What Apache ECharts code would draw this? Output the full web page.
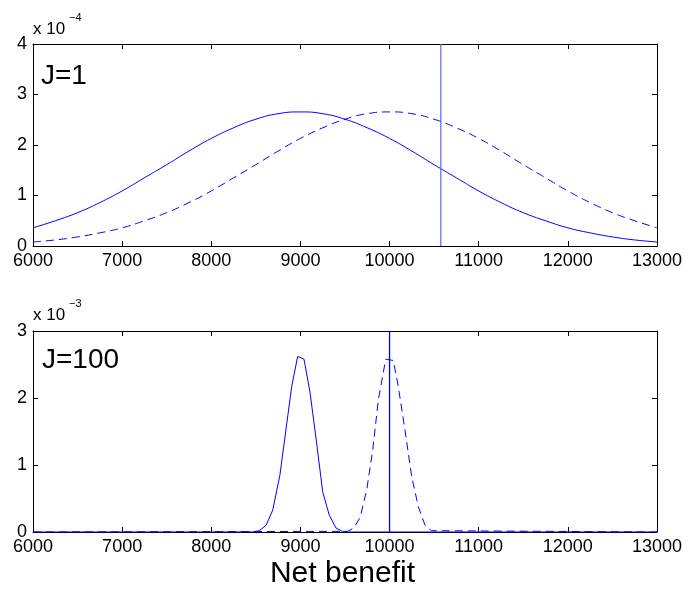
<!DOCTYPE html>
<html><head><meta charset="utf-8">
<script src="https://cdn.jsdelivr.net/npm/echarts@6/dist/echarts.min.js"></script>
<style>html,body{margin:0;padding:0;background:#fff}#c{width:685px;height:590px}</style>
</head><body><div id="c"></div>
<script>
// ---- data (top panel values in units of 1e-4, bottom panel in units of 1e-3) ----
const xMin = 6000, xMax = 13000, xStep = 1000;
const topYMax = 4, botYMax = 3;

const topX = [6000,6250,6500,6750,7000,7250,7500,7750,8000,8250,8500,8750,9000,9250,9500,9750,10000,10250,10500,10750,11000,11250,11500,11750,12000,12250,12500,12750,13000];
const topSolid = [0.36,0.50,0.66,0.86,1.09,1.35,1.61,1.88,2.13,2.34,2.51,2.62,2.655,2.62,2.51,2.34,2.13,1.88,1.61,1.35,1.09,0.86,0.66,0.50,0.36,0.26,0.18,0.12,0.08];
const topDashed = [0.08,0.12,0.18,0.26,0.36,0.50,0.66,0.86,1.09,1.35,1.61,1.88,2.13,2.34,2.51,2.62,2.655,2.62,2.51,2.34,2.13,1.88,1.61,1.35,1.09,0.86,0.66,0.50,0.36];
const topThreshold = 10575;

const botSolidX = [6000,8460,8540,8615,8690,8770,8830,8902,8969,9040,9107,9175,9250,9324,9399,9470,9540,13000];
const botSolid  = [0,0,0.02,0.10,0.33,0.85,1.45,2.17,2.62,2.58,2.09,1.40,0.60,0.25,0.06,0.01,0,0];
const botDashedX = [6000,9530,9600,9670,9744,9811,9874,9957,10042,10098,10173,10248,10322,10398,10470,13000];
const botDashed  = [0,0.01,0.06,0.22,0.63,1.22,1.97,2.58,2.56,2.17,1.52,0.83,0.38,0.10,0.02,0];
const botThreshold = 10000;

const FONT = '"Liberation Sans", Arial, Helvetica, sans-serif';
const BLUE = '#0000ff';

function pairs(xs, ys){ return xs.map((x,i)=>[x, ys[i]]); }

const grids = [
  {left:33, width:624, top:44, height:202},
  {left:33, width:624, top:331, height:201}
];

function xAx(gi, pos, labels){
  return {type:'value', gridIndex:gi, position:pos, min:xMin, max:xMax, interval:xStep,
    axisLine:{show:true, onZero:false, lineStyle:{color:'#000', width:1}},
    axisTick:{show:true, inside:true, length:5, lineStyle:{color:'#000', width:1}},
    axisLabel:{show:labels, color:'#000', fontSize:18, fontFamily:FONT, margin:6, showMinLabel:true, showMaxLabel:true, hideOverlap:false,
      formatter:function(v){ return String(v); }},
    splitLine:{show:false}};
}
function yAx(gi, pos, max, labels){
  return {type:'value', gridIndex:gi, position:pos, min:0, max:max, interval:1,
    axisLine:{show:true, onZero:false, lineStyle:{color:'#000', width:1}},
    axisTick:{show:true, inside:true, length:5, lineStyle:{color:'#000', width:1}},
    axisLabel:{show:labels, color:'#000', fontSize:18, fontFamily:FONT, margin:6, formatter:function(v){ return String(v); }},
    splitLine:{show:false}};
}

const lineBase = {type:'line', showSymbol:false, symbol:'none', silent:true, animation:false, clip:true};

const option = {
  backgroundColor:'#fff',
  animation:false,
  grid: grids,
  xAxis:[xAx(0,'bottom',true), xAx(0,'top',false), xAx(1,'bottom',true), xAx(1,'top',false)],
  yAxis:[yAx(0,'left',topYMax,true), yAx(0,'right',topYMax,false), yAx(1,'left',botYMax,true), yAx(1,'right',botYMax,false)],
  series:[
    Object.assign({}, lineBase, {xAxisIndex:0, yAxisIndex:0, smooth:true, data:pairs(topX, topSolid), lineStyle:{color:BLUE, width:1}}),
    Object.assign({}, lineBase, {xAxisIndex:0, yAxisIndex:0, smooth:true, data:pairs(topX, topDashed), lineStyle:{color:BLUE, width:1, type:[8,5]}}),
    Object.assign({}, lineBase, {xAxisIndex:0, yAxisIndex:0, data:[[topThreshold,0],[topThreshold,topYMax]], lineStyle:{color:'#5566ff', width:1.2}}),
    Object.assign({}, lineBase, {xAxisIndex:2, yAxisIndex:2, data:pairs(botSolidX, botSolid), lineStyle:{color:BLUE, width:1}}),
    Object.assign({}, lineBase, {xAxisIndex:2, yAxisIndex:2, data:pairs(botDashedX, botDashed), lineStyle:{color:BLUE, width:1, type:[8,5]}}),
    Object.assign({}, lineBase, {xAxisIndex:2, yAxisIndex:2, data:[[botThreshold,0],[botThreshold,botYMax]], lineStyle:{color:BLUE, width:1.3}})
  ],
  graphic:[
    {type:'text', left:33, top:21, style:{text:'x 10', font:'17px '+FONT, fill:'#000'}},
    {type:'text', left:69, top:12, style:{text:'\u22124', font:'11px '+FONT, fill:'#000'}},
    {type:'text', left:33, top:307, style:{text:'x 10', font:'17px '+FONT, fill:'#000'}},
    {type:'text', left:69, top:298, style:{text:'\u22123', font:'11px '+FONT, fill:'#000'}},
    {type:'text', left:41, top:62, style:{text:'J=1', font:'28px '+FONT, fill:'#000'}},
    {type:'text', left:42, top:346, style:{text:'J=100', font:'28px '+FONT, fill:'#000'}},
    {type:'text', left:'center', top:559, style:{text:'Net benefit', font:'30px '+FONT, fill:'#000'}}
  ]
};

const chart = echarts.init(document.getElementById('c'), null, {renderer:'canvas'});
chart.setOption(option);
</script>
</body></html>
